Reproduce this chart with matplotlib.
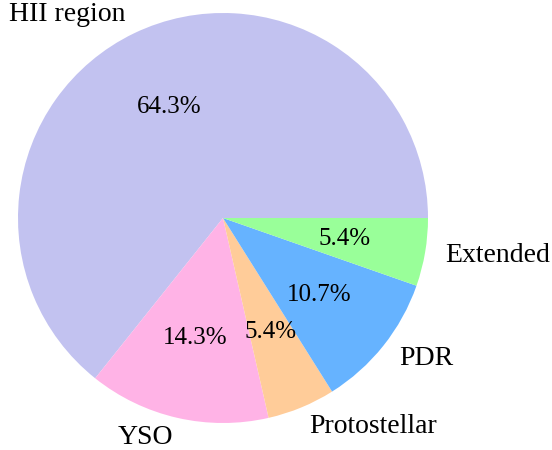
import matplotlib
matplotlib.use("Agg")
import matplotlib.pyplot as plt

plt.rcParams["font.family"] = ["Liberation Serif", "DejaVu Serif"]

# Source classes (counts out of 56)
labels = ["HII region", "YSO", "Protostellar", "PDR", "Extended"]
counts = [36, 8, 3, 6, 3]
colors = ["#c2c2f0", "#ffb3e6", "#ffcc99", "#66b3ff", "#99ff99"]

fig = plt.figure(figsize=(5.52, 4.5), dpi=100)
# axes placed so the pie centre / radius match the reference
w = 512.5
ax = fig.add_axes([(223 - w / 2) / 552, (232 - w / 2) / 450, w / 552, w / 450])

wedges, texts, autotexts = ax.pie(
    counts,
    labels=labels,
    colors=colors,
    autopct="%1.1f%%",
    startangle=0,
    textprops={"fontsize": 20},
)
for t in autotexts:
    t.set_fontsize(18)

ax.set_aspect("equal")
fig.savefig("out.png", dpi=100)
